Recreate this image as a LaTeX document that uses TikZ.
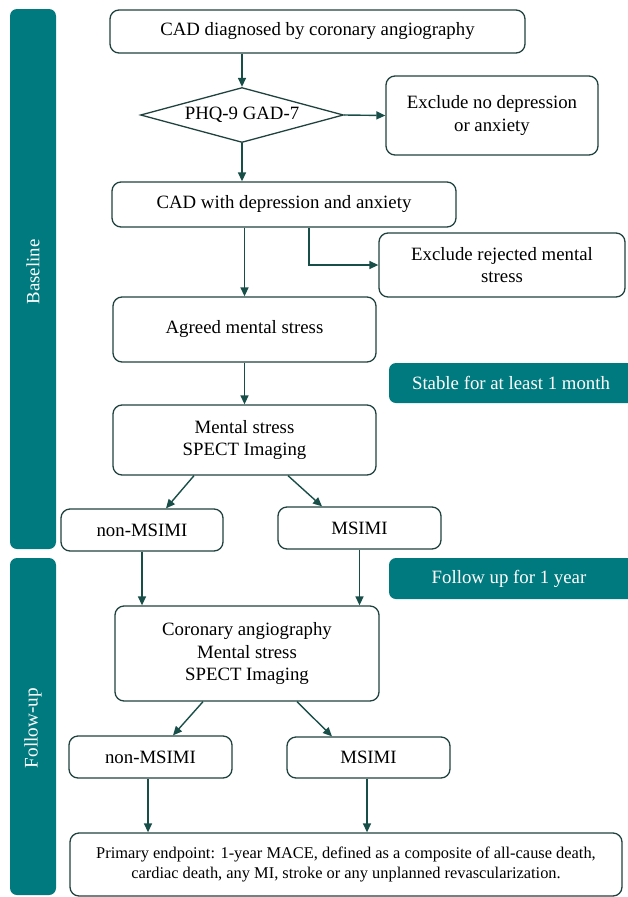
\documentclass[tikz,border=0pt]{standalone}
\usepackage{fontspec}
\setmainfont{Liberation Serif}
\usetikzlibrary{shapes.geometric,arrows.meta,calc}
\definecolor{tealbar}{RGB}{0,122,126}
\definecolor{boxline}{RGB}{32,66,62}
\definecolor{arrowc}{RGB}{24,78,72}
\begin{document}
\begin{tikzpicture}[x=1pt,y=1pt,
  txt/.style={font=\fontsize{18.8}{22.5}\selectfont},
  smalltxt/.style={font=\fontsize{16.4}{19.5}\selectfont},
  box/.style={draw=boxline,line width=1.3pt,rounded corners=9pt,inner sep=0pt,align=center,txt},
  dia/.style={draw=boxline,line width=1.3pt,diamond,aspect=3.7,inner sep=0pt,txt,minimum width=203pt,minimum height=55pt},
  arr/.style={draw=arrowc,line width=1.4pt,-{Triangle[length=9pt,width=8pt]}},
  bartxt/.style={text=white,txt}]
\useasboundingbox (0,0) rectangle (627,-897);
% side bars
\fill[tealbar,rounded corners=7pt] (10,-9) rectangle (56,-549);
\node[bartxt,rotate=90] (lbase) at (33,-272) {Baseline};
\fill[tealbar,rounded corners=7pt] (10,-558) rectangle (56,-895);
\node[bartxt,rotate=90,font=\fontsize{19.2}{23}\selectfont] (lfollow) at (33,-728) {Follow-up};
% right banners
\fill[tealbar,rounded corners=7pt] (389,-363) rectangle (645,-403);
\node[bartxt] (stab) at (511,-383) {Stable for at least 1 month};
\fill[tealbar,rounded corners=7pt] (389,-558) rectangle (645,-599);
\node[bartxt] (fol) at (509,-578.5) {Follow up for 1 year};
% boxes
\node[box,minimum width=415pt,minimum height=43pt] (b1) at (317.5,-31.5) {CAD diagnosed by coronary angiography};
\node[dia] (d) at (242,-115) {PHQ-9 GAD-7};
\node[box,minimum width=212pt,minimum height=79pt] (ex1) at (492,-115.5) {Exclude no depression\\or anxiety};
\node[box,minimum width=344pt,minimum height=45pt] (b3) at (284,-204.5) {CAD with depression and anxiety};
\node[box,minimum width=246pt,minimum height=64pt] (ex2) at (502,-265) {Exclude rejected mental\\stress};
\node[box,minimum width=263pt,minimum height=65pt] (b4) at (244.5,-329.5) {Agreed mental stress};
\node[box,minimum width=263pt,minimum height=70pt] (b5) at (244.5,-440) {Mental stress\\SPECT Imaging};
\node[box,minimum width=162pt,minimum height=42pt] (n1) at (142,-530) {non-MSIMI};
\node[box,minimum width=163pt,minimum height=42pt] (m1) at (359.5,-528) {MSIMI};
\node[box,minimum width=264pt,minimum height=95pt] (b6) at (247,-653.5) {Coronary angiography\\Mental stress\\SPECT Imaging};
\node[box,minimum width=163pt,minimum height=42pt] (n2) at (150.5,-757) {non-MSIMI};
\node[box,minimum width=163pt,minimum height=41pt] (m2) at (368.5,-757.5) {MSIMI};
\node[box,smalltxt,minimum width=552pt,minimum height=63pt] (fin) at (346,-864.5) {Primary endpoint: 1-year MACE, defined as a composite of all-cause death,\\cardiac death, any MI, stroke or any unplanned revascularization.};
% arrows
\draw[arr] (d.north |- b1.south) -- (d.north);
\draw[arr] (d.east) -- (ex1.west);
\draw[arr] (d.south) -- (d.south |- b3.north);
\draw[arr] (b3.south -| 309,0) |- (ex2.west);
\draw[arr] (b4.north |- b3.south) -- (b4.north);
\draw[arr] (b4.south) -- (b5.north);
\draw[arr] ($(b5.south)+(-50.5,0)$) -- ($(n1.north)+(24,0)$);
\draw[arr] ($(b5.south)+(43.5,0)$) -- ($(m1.north)+(-37.5,0)$);
\draw[arr] (n1.south) -- (n1.south |- b6.north);
\draw[arr] (m1.south) -- (m1.south |- b6.north);
\draw[arr] ($(b6.south)+(-44,0)$) -- ($(n2.north)+(22.5,0)$);
\draw[arr] ($(b6.south)+(50,0)$) -- ($(m2.north)+(-36.5,0)$);
\draw[arr] ($(n2.south)+(-2.5,0)$) -- ($(n2.south |- fin.north)+(-2.5,0)$);
\draw[arr] ($(m2.south)+(-1.5,0)$) -- ($(m2.south |- fin.north)+(-1.5,0)$);
\end{tikzpicture}
\end{document}
